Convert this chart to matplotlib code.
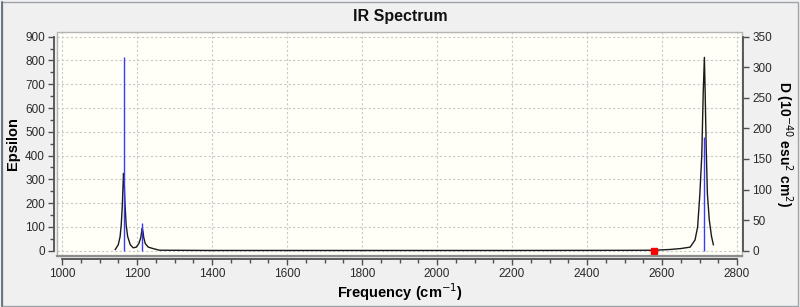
import matplotlib
matplotlib.use("Agg")
import matplotlib.pyplot as plt
from matplotlib.patches import Rectangle
from matplotlib.lines import Line2D
from matplotlib.ticker import MultipleLocator

plt.rcParams["font.family"] = ["Liberation Sans", "DejaVu Sans"]

# broadened spectrum (epsilon)
freq = [1142, 1150, 1155, 1158, 1161, 1163, 1164, 1166, 1168, 1171, 1175, 1182,
        1190, 1198, 1205, 1210, 1213, 1214, 1216, 1218, 1222, 1230, 1245, 1260,
        1400, 1800, 2200, 2500, 2580, 2620, 2650, 2675, 2688, 2695, 2701, 2706,
        2710, 2713, 2715, 2718, 2721, 2726, 2732, 2737]
epsilon = [5, 25, 60, 110, 195, 285, 325, 285, 195, 110, 60, 25,
           12, 15, 30, 55, 85, 95, 80, 55, 30, 15, 8, 2,
           1, 1, 1, 1.5, 2, 5, 9, 15, 45, 100, 240, 400,
           670, 813, 670, 420, 240, 130, 60, 25]

# stick intensities (D, right axis)
stick_freq = [1164, 1214, 2713]
stick_d = [317, 46, 186]

marker_freq = [2579]
marker_eps = [0]

x_ticks = list(range(1000, 2801, 200))
eps_ticks = list(range(0, 901, 100))
d_ticks = list(range(0, 351, 50))

fig = plt.figure(figsize=(8, 3.07), dpi=100)
fig.patch.set_facecolor("#f0f0f0")

ax = fig.add_axes([57.5 / 800, 1 - 256 / 307, 684.2 / 800, 224 / 307])
ax.set_facecolor("#fffff8")
ax.set_xlim(988, 2812.5)
ax.set_ylim(-22.3, 919.8)

ax.grid(True, which="major", color="#c8c8c8", linestyle=(0, (2, 2)), linewidth=0.8)
ax.set_axisbelow(True)

ax.plot(freq, epsilon, color="#1a1a1a", linewidth=1.0, zorder=3)
ax.plot(marker_freq, marker_eps, "s", color="#ff0000", markersize=4, zorder=5)

for side in ["top", "right"]:
    ax.spines[side].set_visible(False)
for side, off in [("left", 2.5), ("bottom", 2.2)]:
    sp = ax.spines[side]
    sp.set_position(("outward", off))
    sp.set_color("#505050")
    sp.set_linewidth(1.3)
ax.spines["left"].set_bounds(0, 900)
ax.spines["bottom"].set_bounds(1000, 2800)

ax.set_xticks(x_ticks)
ax.set_yticks(eps_ticks)
ax.xaxis.set_minor_locator(MultipleLocator(50))
ax.yaxis.set_minor_locator(MultipleLocator(50))
ax.tick_params(which="major", length=4.5, width=1, color="#505050",
               labelsize=8.5, labelcolor="#2a2a2a", pad=2)
ax.tick_params(which="minor", length=2.8, width=1, color="#505050")

# twin axis for sticks
ax2 = ax.twinx()
ax2.set_ylim(-22.3 * 350 / 900, 919.8 * 350 / 900)
ax2.vlines(stick_freq, 0, stick_d, color="#3a3aff", linewidth=1.0, zorder=4)
for side in ["top", "left", "bottom"]:
    ax2.spines[side].set_visible(False)
sp = ax2.spines["right"]
sp.set_position(("outward", 1.2))
sp.set_color("#505050")
sp.set_linewidth(1.3)
sp.set_bounds(0, 350)
ax2.set_yticks(d_ticks)
ax2.tick_params(which="major", length=4.5, width=1, color="#505050",
                labelsize=8.5, labelcolor="#2a2a2a", pad=2)

# plot area frame
ax.add_patch(Rectangle((0, 0), 1, 1, transform=ax.transAxes, fill=False,
                       edgecolor="#b4b4b4", linewidth=1.0, zorder=6, clip_on=False))
ax.add_line(Line2D([0, 1], [0, 0], transform=ax.transAxes, color="#8c8c8c",
                   linewidth=1.6, zorder=6, clip_on=False))

ax.set_xlabel("Frequency (cm$^{-1}$)", fontsize=10.5, fontweight="bold", labelpad=1)
ax.set_ylabel("Epsilon", fontsize=10.5, fontweight="bold", labelpad=4)
ax2.set_ylabel("D (10$^{-40}$ esu$^{2}$ cm$^{2}$)", fontsize=10, fontweight="bold",
               rotation=270, labelpad=16)

fig.text(0.5, 1 - 17 / 307, "IR Spectrum", ha="center", va="center",
         fontsize=11.5, fontweight="bold", color="#111111")

# window border
fig.add_artist(Rectangle((1.5 / 800, 1.5 / 307), 796.5 / 800, 304 / 307,
                         transform=fig.transFigure, fill=False,
                         edgecolor="#a0a4aa", linewidth=1.0))
fig.add_artist(Line2D([1.5 / 800, 1.5 / 800], [1.5 / 307, 305.5 / 307],
                      transform=fig.transFigure, color="#5c6878", linewidth=1.2))

fig.savefig("out.png", dpi=100, facecolor=fig.get_facecolor())
